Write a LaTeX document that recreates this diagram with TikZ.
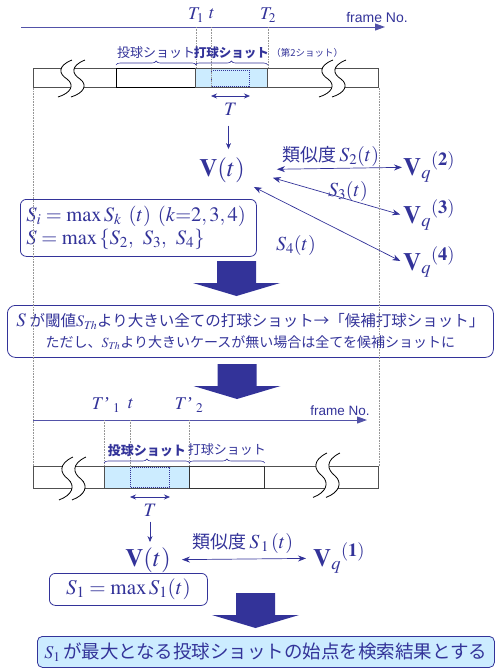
\documentclass[tikz,border=0pt]{standalone}
\usepackage{mathptmx}
\usepackage{fontspec}
\setmainfont{Liberation Serif}
\newfontfamily\jpfont{Noto Sans CJK JP}
\newfontfamily\framefont{Liberation Sans}
\usetikzlibrary{arrows.meta, positioning, decorations.pathreplacing, calc}
\definecolor{shotBlue}{RGB}{51,51,153}
\definecolor{shotFill}{RGB}{204,236,255}
\definecolor{barGray}{RGB}{80,80,80}
\newcommand{\fsz}[1]{\fontsize{#1}{#1}\selectfont}

\tikzset{
  axisline/.style={shotBlue!85, line width=1pt, -{Triangle[length=10pt,width=7pt]}},
  guide/.style={barGray!60, densely dotted, line width=0.6pt},
  shotbox/.style={draw=barGray, line width=0.8pt, minimum height=19pt, inner sep=0pt, anchor=north west},
  window/.style={draw=shotBlue, densely dotted, line width=1pt, inner sep=0pt, anchor=north west},
  shotbrace/.style={shotBlue, line width=0.6pt, decorate, decoration={brace, amplitude=4pt}},
  shotlabel/.style={font=\jpfont\fsz{13}, text=shotBlue, inner sep=0pt},
  spanarrow/.style={shotBlue, line width=0.7pt, {Stealth[length=6pt,width=5pt]}-{Stealth[length=6pt,width=5pt]}},
  simarrow/.style={shotBlue, line width=0.7pt, {Stealth[length=8pt,width=6pt]}-{Stealth[length=8pt,width=6pt]}},
  downarrow/.style={shotBlue, line width=0.7pt, -{Stealth[length=6pt,width=5pt]}},
  mathlabel/.style={text=shotBlue, font=\fsz{18}, inner sep=0pt},
  vec/.style={text=shotBlue, font=\fsz{25}, inner sep=0pt},
  infobox/.style={draw=shotBlue, line width=0.8pt, rounded corners=6pt, text=shotBlue, inner sep=0pt, anchor=north west},
}

\newcommand{\barcut}[3]{%
  \begin{scope}[shift={(#1,#2)}, yscale=#3]
    \fill[white] (0,0) .. controls (-15,6) and (-13,14) .. (-5,19) .. controls (3,25) and (-1,33) .. (-14,37)
      -- (-1,37) .. controls (12,33) and (16,25) .. (8,19) .. controls (0,14) and (-2,6) .. (13,0) -- cycle;
    \draw[black, line width=0.8pt] (0,0) .. controls (-15,6) and (-13,14) .. (-5,19) .. controls (3,25) and (-1,33) .. (-14,37);
    \draw[black, line width=0.8pt] (13,0) .. controls (-2,6) and (0,14) .. (8,19) .. controls (16,25) and (12,33) .. (-1,37);
  \end{scope}}

\newcommand{\bigdown}[2]{%
  \fill[shotBlue] (#1-19.5,#2) -- ++(39,0) -- ++(0,22) -- ++(24,0) -- ++(-43.5,13) -- ++(-43.5,-13) -- ++(24,0) -- cycle;}

\begin{document}
\begin{tikzpicture}[x=1pt, y=-1pt]
  \useasboundingbox (0,0) rectangle (496,670);

  % first search: hitting shots
  \coordinate (axA) at (21,27);
  \coordinate (axB) at (385,27);
  \draw[axisline] (axA) -- (axB);
  \node[font=\framefont\fsz{14}, text=shotBlue, inner sep=0pt] (frame1) at (377,17) {frame No.};
  \node[mathlabel] (T1) at (196,15) {$T_1$};
  \node[mathlabel] (t1) at (212,14) {$t$};
  \node[mathlabel] (T2) at (268,15) {$T_2$};

  \node[shotbox, minimum width=345pt] (bar1) at (33,68) {};
  \barcut{72}{60}{1}
  \barcut{333}{60}{1}
  \node[shotbox, draw=black, line width=1.3pt, minimum width=79pt] (pitch1) at (116,68) {};
  \node[shotbox, fill=shotFill, minimum width=72pt] (hit1) at (195,68) {};
  \node[window, minimum width=38pt, minimum height=16pt] (win1) at (211,70) {};

  \draw[guide] (pitch1.north east |- axA) -- (pitch1.north east);
  \draw[guide] (win1.north west |- axA) -- (win1.south west);
  \draw[guide] (hit1.north east |- axA) -- (hit1.north east);

  \draw[shotbrace] ([yshift=3pt]pitch1.north west) -- ([yshift=3pt]pitch1.north east);
  \draw[shotbrace] ([yshift=3pt]hit1.north west) -- ([yshift=3pt]hit1.north east);
  \node[shotlabel, above=9pt of pitch1] (pitchlab1) {投球ショット};
  \node[shotlabel, font=\jpfont\bfseries\fsz{12.5}, above=9pt of hit1] (hitlab1) {打球ショット};
  \node[shotlabel, font=\jpfont\fsz{9.5}, right=2pt of hitlab1] (secondlab) {（第2ショット）};

  \draw[spanarrow] ([yshift=-9pt]win1.south west) -- ([yshift=-9pt]win1.south east);
  \node[mathlabel, font=\fsz{19}, below=16pt of win1] (Tspan1) {$T$};

  \node[vec, anchor=base] (Vt1) at (222,176) {$\mathbf{V}(t)$};
  \node[vec, anchor=base west] (Vq2) at (403,175) {$\mathbf{V}_{q}{}^{\mathbf{(2)}}$};
  \node[vec, anchor=base west] (Vq3) at (403,223) {$\mathbf{V}_{q}{}^{\mathbf{(3)}}$};
  \node[vec, anchor=base west] (Vq4) at (403,270) {$\mathbf{V}_{q}{}^{\mathbf{(4)}}$};
  \draw[downarrow, shorten <=10pt, shorten >=8pt] ([xshift=-2pt]Tspan1.south) -- ([xshift=-2pt]Tspan1.south |- Vt1.north);
  \draw[simarrow, shorten <=32pt, shorten >=1pt] (Vt1.east) -- (Vq2.west);
  \draw[simarrow, shorten <=29pt, shorten >=3pt] (Vt1.east) -- (Vq3.west);
  \draw[simarrow, shorten <=10pt, shorten >=3pt] (Vt1.south east) -- (Vq4.west);
  \node[text=shotBlue, anchor=base, inner sep=0pt] (sim2) at (331,161) {{\jpfont\fsz{18}類似度} {\fsz{20}$S_2(t)$}};
  \node[mathlabel, font=\fsz{20}, anchor=base] (sim3) at (348,196) {$S_3(t)$};
  \node[mathlabel, font=\fsz{20}, anchor=base] (sim4) at (296,250) {$S_4(t)$};

  \node[infobox, minimum width=236pt, minimum height=57pt, text width=230pt, inner xsep=3pt, align=left,
    font=\fontsize{20.5}{23}\selectfont] (simbox) at (20,199)
    {\hspace*{3pt}$S_i = \max S_k\ (t)\ (k{=}2,3,4)$\\ \hspace*{3pt}$S = \max\,\{S_2,\ S_3,\ S_4\}$};

  \bigdown{236.5}{261}

  \node[infobox, minimum width=486pt, minimum height=52pt, align=center, rounded corners=8pt] (threshbox) at (7,305)
    {{\jpfont\fsz{15.5}{\fsz{19}$S$} が閾値{\fsz{16}$S_{T\!h}$}より大きい全ての打球ショット→「候補打球ショット」}\\[5pt]
     {\jpfont\fsz{14}ただし、{\fsz{14}$S_{T\!h}$}より大きいケースが無い場合は全てを候補ショットに}};

  \bigdown{237}{364}

  % second search: pitching shots
  \coordinate (axC) at (33,420);
  \coordinate (axD) at (367,420);
  \draw[axisline] (axC) -- (axD);
  \node[font=\framefont\fsz{13.5}, text=shotBlue, inner sep=0pt] (frame2) at (340,411) {frame No.};
  \node[mathlabel] (Tp1) at (106,405) {$T$’\,$_1$};
  \node[mathlabel] (t2) at (131,404) {$t$};
  \node[mathlabel] (Tp2) at (189,405) {$T$’\,$_2$};

  \node[shotbox, minimum width=345pt, minimum height=22pt] (bar2) at (33,466) {};
  \barcut{73}{457}{1.16}
  \barcut{327}{453}{1.2}
  \node[shotbox, fill=shotFill, minimum width=85pt, minimum height=22pt] (pitch2) at (104,466) {};
  \node[shotbox, draw=black!80, minimum width=75pt, minimum height=22pt] (hit2) at (189,466) {};
  \node[window, minimum width=39pt, minimum height=20pt] (win2) at (130,467) {};

  \draw[guide] (pitch2.north west |- axC) -- (pitch2.north west);
  \draw[guide] (win2.north west |- axC) -- (win2.north west);
  \draw[guide] (hit2.north west |- axC) -- (hit2.north west);
  \draw[guide] (bar1.south west) -- (bar2.north west);
  \draw[guide] (bar1.south east) -- (bar2.north east);

  \draw[shotbrace] ([yshift=3pt]pitch2.north west) -- ([yshift=3pt]pitch2.north east);
  \draw[shotbrace] ([yshift=3pt]hit2.north west) -- ([yshift=3pt]hit2.north east);
  \node[shotlabel, font=\jpfont\bfseries\fsz{13}, above=9pt of pitch2] (pitchlab2) {投球ショット};
  \node[shotlabel, above=10pt of hit2] (hitlab2) {打球ショット};

  \draw[spanarrow] ([yshift=-9pt]win2.south west) -- ([yshift=-9pt]win2.south east);
  \node[mathlabel, font=\fsz{19}, below=16pt of win2] (Tspan2) {$T$};

  \node[vec, anchor=base] (Vt2) at (148,566) {$\mathbf{V}(t)$};
  \node[vec, anchor=base west] (Vq1) at (313,566) {$\mathbf{V}_{q}{}^{\mathbf{(1)}}$};
  \draw[downarrow, shorten <=5pt, shorten >=5pt] (Tspan2.south) -- (Tspan2.south |- Vt2.north);
  \draw[simarrow, shorten <=11pt, shorten >=7pt] (Vt2.east) -- (Vq1.west);
  \node[text=shotBlue, anchor=base, inner sep=0pt] (sim1) at (243,548) {{\jpfont\fsz{18}類似度} {\fsz{20}$S_{\,1}\,(t)$}};

  \node[infobox, minimum width=158pt, minimum height=32pt, font=\fsz{21}] (maxbox) at (49,573) {$S_1 = \max S_1(t)$};

  \bigdown{255.5}{593}

  \node[infobox, fill=shotFill, minimum width=457pt, minimum height=31pt, rounded corners=5pt] (resultbox) at (37,636)
    {{\fsz{18}$S_1$} {\jpfont\fsz{18.5}が最大となる投球ショットの始点を検索結果とする}};
\end{tikzpicture}
\end{document}
